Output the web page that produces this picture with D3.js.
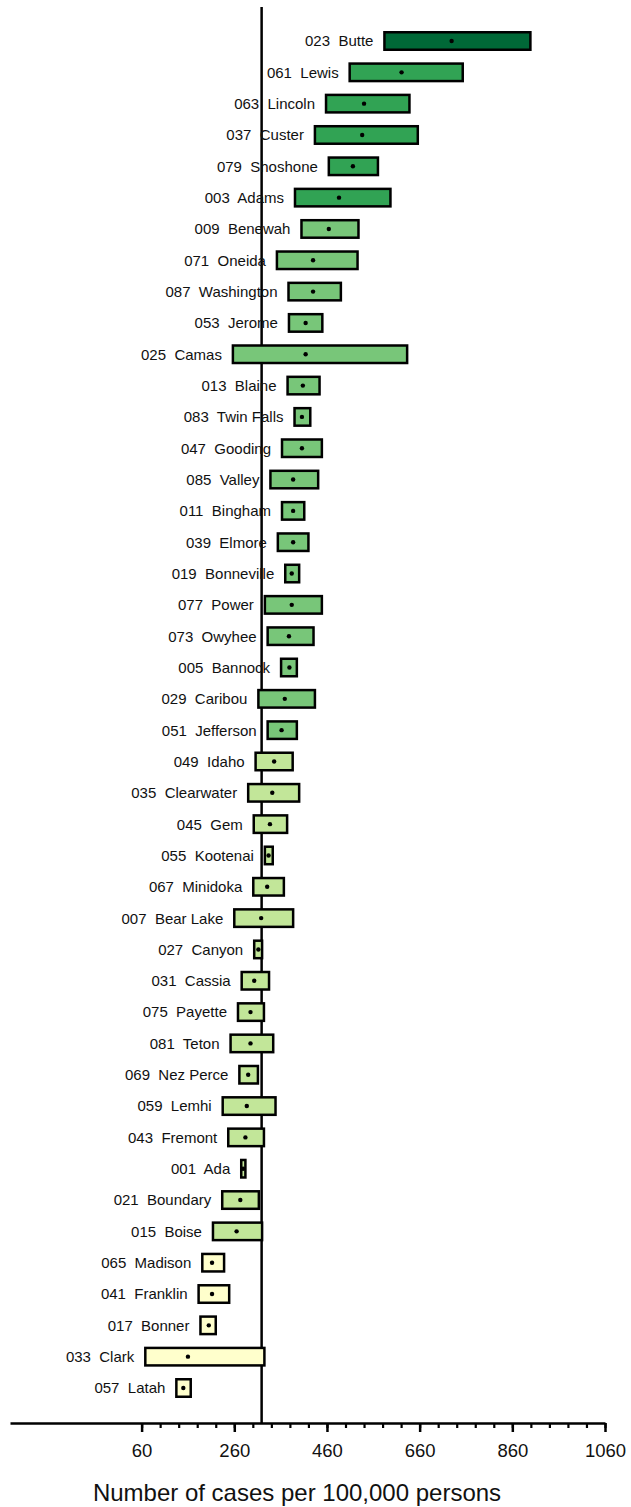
<!DOCTYPE html>
<html>
<head>
<meta charset="utf-8">
<script src="https://cdn.jsdelivr.net/npm/d3@7"></script>
<style>
  html, body { margin: 0; padding: 0; background: #fff; }
  svg { display: block; font-family: "Liberation Sans", Arial, sans-serif; }
  .lbl { white-space: pre; }
</style>
</head>
<body>
<svg id="chart" width="631" height="1507"></svg>
<script>
// Idaho counties, incidence per 100,000 persons with 95% confidence interval
const codes = ["023","061","063","037","079","003","009","071","087","053","025","013","083","047","085",
  "011","039","019","077","073","005","029","051","049","035","045","055","067","007","027","031",
  "075","081","069","059","043","001","021","015","065","041","017","033","057"];
const counties = ["Butte","Lewis","Lincoln","Custer","Shoshone","Adams","Benewah","Oneida","Washington",
  "Jerome","Camas","Blaine","Twin Falls","Gooding","Valley","Bingham","Elmore","Bonneville","Power",
  "Owyhee","Bannock","Caribou","Jefferson","Idaho","Clearwater","Gem","Kootenai","Minidoka","Bear Lake",
  "Canyon","Cassia","Payette","Teton","Nez Perce","Lemhi","Fremont","Ada","Boundary","Boise","Madison",
  "Franklin","Bonner","Clark","Latah"];
const rates = [729,621,540,536,516,486,464,430,430,414,414,408,406,406,387,387,387,384,384,378,379,369,362,
  346,342,337,334,331,318,312,303,295,295,290,287,284,279,273,265,212,212,205,160,150];
const lower = [584,509,458,434,464,391,405,352,377,378,257,375,390,363,338,363,354,370,326,332,361,312,332,
  306,290,302,326,301,260,303,276,268,252,271,235,247,275,234,214,191,183,187,68,135];
const upper = [899,753,638,656,570,597,528,526,490,450,633,444,424,449,441,411,420,400,449,431,395,434,395,
  386,400,374,343,367,387,320,335,324,344,311,349,324,284,313,320,238,249,220,325,166];
// rate class of each county (0 = highest)
const classes = [0,1,1,1,1,1,2,2,2,2,2,2,2,2,2,2,2,2,2,2,2,2,2,
  3,3,3,3,3,3,3,3,3,3,3,3,3,3,3,3,4,4,4,4,4];
const classColors = ["#006837","#31a354","#78c679","#c2e699","#ffffcc"];
const stateRate = 319;
const majorTicks = [60,260,460,660,860,1060];
const minorTicks = d3.range(60, 1061, 40);
const axisTitle = "Number of cases per 100,000 persons";

const svg = d3.select("#chart");

const x = d3.scaleLinear().domain([-224, 1060]).range([10, 605]);
const y = d3.scalePoint().domain(codes).range([41, 1388]);
const color = d3.scaleOrdinal().domain(d3.range(5)).range(classColors);
const axisY = 1423;
const barH = 17.5;

const rows = codes.map((c, i) => ({
  code: c, name: counties[i], rate: rates[i], lo: lower[i], hi: upper[i], cls: classes[i]
}));

// state reference line
svg.append("line")
  .attr("x1", x(stateRate)).attr("x2", x(stateRate))
  .attr("y1", 7).attr("y2", axisY)
  .attr("stroke", "#000").attr("stroke-width", 2.5);

// confidence interval bars
svg.append("g").selectAll("rect").data(rows).join("rect")
  .attr("x", d => x(d.lo))
  .attr("y", d => y(d.code) - barH / 2)
  .attr("width", d => x(d.hi) - x(d.lo))
  .attr("height", barH)
  .attr("fill", d => color(d.cls))
  .attr("stroke", "#000")
  .attr("stroke-width", 2.5);

// point estimates
svg.append("g").selectAll("circle").data(rows).join("circle")
  .attr("cx", d => x(d.rate))
  .attr("cy", d => y(d.code))
  .attr("r", 2.2)
  .attr("fill", "#000");

// county labels sit just left of each bar
svg.append("g").selectAll("text").data(rows).join("text")
  .attr("class", "lbl")
  .attr("x", d => x(d.lo) - 11)
  .attr("y", d => y(d.code))
  .attr("dy", "0.36em")
  .attr("text-anchor", "end")
  .attr("font-size", 15)
  .attr("fill", "#111")
  .text(d => d.code + "  " + d.name);

// x axis: minor ticks
const minorAxis = svg.append("g")
  .attr("transform", `translate(0,${axisY})`)
  .call(d3.axisBottom(x).tickValues(minorTicks).tickSize(5).tickSizeOuter(0).tickFormat(""));
minorAxis.select(".domain").remove();
minorAxis.selectAll(".tick line").attr("stroke", "#000").attr("stroke-width", 2.2);

// x axis: major ticks with labels
const majorAxis = svg.append("g")
  .attr("transform", `translate(0,${axisY})`)
  .call(d3.axisBottom(x).tickValues(majorTicks).tickSize(9).tickSizeOuter(0).tickPadding(12)
    .tickFormat(d3.format("d")));
majorAxis.select(".domain").attr("stroke", "#000").attr("stroke-width", 2.5);
majorAxis.selectAll(".tick line").attr("stroke", "#000").attr("stroke-width", 2.5);
majorAxis.selectAll(".tick text")
  .attr("font-size", 18.5)
  .attr("font-family", "Liberation Sans, Arial, sans-serif")
  .attr("fill", "#111");

// axis title
svg.append("text")
  .attr("x", 297)
  .attr("y", 1501)
  .attr("text-anchor", "middle")
  .attr("font-size", 24)
  .attr("fill", "#111")
  .text(axisTitle);
</script>
</body>
</html>
